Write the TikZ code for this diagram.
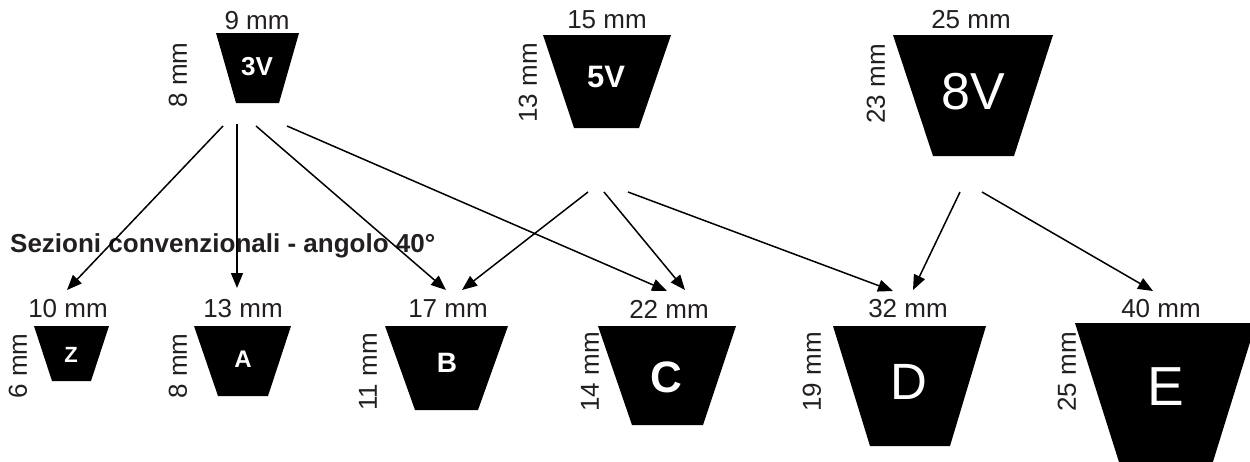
\documentclass[tikz,border=0pt]{standalone}
\usepackage{fontspec}
\setmainfont{Liberation Sans}
\usetikzlibrary{arrows.meta}
\definecolor{ink}{HTML}{231F20}
\tikzset{
  belt/.style={fill=black},
  sect/.style={text=white,inner sep=0pt},
  mmlabel/.style={text=ink,inner sep=0pt,font=\fontsize{26}{30}\selectfont},
  mmvert/.style={mmlabel,rotate=90},
  link/.style={line width=1.5pt,-{Triangle[length=15pt,width=12pt]}}
}
\begin{document}
\begin{tikzpicture}[x=1pt,y=-1pt]
    \useasboundingbox (0,0) rectangle (1250,461);
    \clip (0,0) rectangle (1250,461);
    % narrow sections
    \fill[belt] (216,33) -- (299,33) -- (279,103) -- (236,103) -- cycle;
    \node[sect,font=\bfseries\fontsize{26}{30}\selectfont] (3V) at (257,67) {3V};
    \node[mmlabel] (3Vw) at (257,21) {9 mm};
    \node[mmvert] (3Vh) at (178,75) {8 mm};
    \fill[belt] (543,35) -- (671,35) -- (639,128) -- (574,128) -- cycle;
    \node[sect,font=\bfseries\fontsize{31}{36}\selectfont] (5V) at (606,77) {5V};
    \node[mmlabel] (5Vw) at (607,20) {15 mm};
    \node[mmvert] (5Vh) at (528,83) {13 mm};
    \fill[belt] (893,35) -- (1053,35) -- (1014,156) -- (933,156) -- cycle;
    \node[sect,font=\fontsize{52}{60}\selectfont] (8V) at (973,92) {8V};
    \node[mmlabel] (8Vw) at (971,20) {25 mm};
    \node[mmvert] (8Vh) at (876,84) {23 mm};
    % conventional sections
    \node[mmlabel,anchor=base west,font=\bfseries\fontsize{26}{30}\selectfont]
      (title) at (10,252) {Sezioni convenzionali - angolo 40°};
    \fill[belt] (34,326) -- (109,326) -- (91,381) -- (52,381) -- cycle;
    \node[sect,font=\bfseries\fontsize{22}{26}\selectfont] (Z) at (71,355) {Z};
    \node[mmlabel] (Zw) at (68,309) {10 mm};
    \node[mmvert] (Zh) at (18,366) {6 mm};
    \fill[belt] (194,326) -- (291,326) -- (268,396) -- (218,396) -- cycle;
    \node[sect,font=\bfseries\fontsize{24}{28}\selectfont] (A) at (243,359) {A};
    \node[mmlabel] (Aw) at (243,309) {13 mm};
    \node[mmvert] (Ah) at (178,366) {8 mm};
    \fill[belt] (385,326) -- (508,326) -- (478,410) -- (415,410) -- cycle;
    \node[sect,font=\bfseries\fontsize{28}{32}\selectfont] (B) at (447,363) {B};
    \node[mmlabel] (Bw) at (448,309) {17 mm};
    \node[mmvert] (Bh) at (368,372) {11 mm};
    \fill[belt] (598,326) -- (736,326) -- (703,425) -- (632,425) -- cycle;
    \node[sect,font=\bfseries\fontsize{44}{50}\selectfont] (C) at (666,377) {C};
    \node[mmlabel] (Cw) at (669,309) {22 mm};
    \node[mmvert] (Ch) at (590,372) {14 mm};
    \fill[belt] (833,326) -- (986,326) -- (950,446) -- (870,446) -- cycle;
    \node[sect,font=\fontsize{51}{58}\selectfont] (D) at (909,382) {D};
    \node[mmlabel] (Dw) at (908,309) {32 mm};
    \node[mmvert] (Dh) at (812,372) {19 mm};
    \fill[belt] (1075,323) -- (1256,323) -- (1207,481) -- (1125,481) -- cycle;
    \node[sect,font=\fontsize{55}{62}\selectfont] (E) at (1166,387) {E};
    \node[mmlabel] (Ew) at (1161,309) {40 mm};
    \node[mmvert] (Eh) at (1067,372) {25 mm};
    % arrow ends
    \coordinate (3V-1) at (223,126);
    \coordinate (3V-2) at (237,124);
    \coordinate (3V-3) at (256,126);
    \coordinate (3V-4) at (287,126);
    \coordinate (5V-1) at (588,192);
    \coordinate (5V-2) at (604,192);
    \coordinate (5V-3) at (628,192);
    \coordinate (8V-1) at (960,192);
    \coordinate (8V-2) at (982,192);
    \coordinate (Z-in) at (67,290);
    \coordinate (A-in) at (237,288);
    \coordinate (B-in1) at (446,290);
    \coordinate (B-in2) at (462,290);
    \coordinate (C-in1) at (667,291);
    \coordinate (C-in2) at (685,290);
    \coordinate (D-in1) at (893,291);
    \coordinate (D-in2) at (913,290);
    \coordinate (E-in) at (1153,291);
    \draw[link] (3V-1) -- (Z-in);
    \draw[link] (3V-2) -- (A-in);
    \draw[link] (3V-3) -- (B-in1);
    \draw[link] (3V-4) -- (C-in1);
    \draw[link] (5V-1) -- (B-in2);
    \draw[link] (5V-2) -- (C-in2);
    \draw[link] (5V-3) -- (D-in1);
    \draw[link] (8V-1) -- (D-in2);
    \draw[link] (8V-2) -- (E-in);
\end{tikzpicture}
\end{document}
